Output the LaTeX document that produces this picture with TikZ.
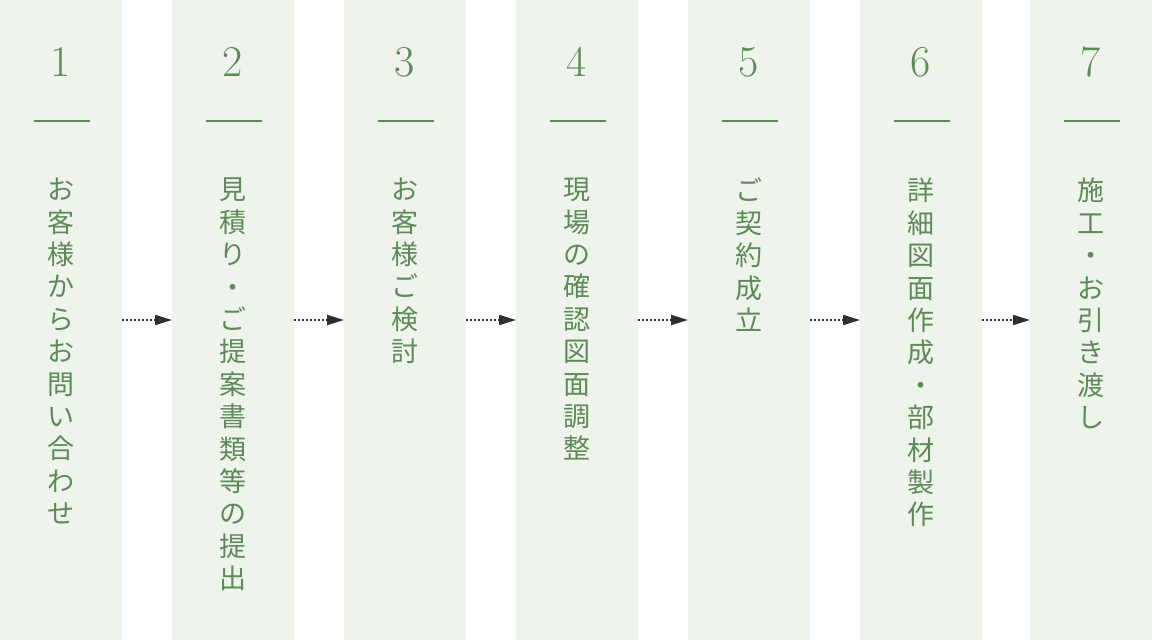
\documentclass[tikz,border=0pt]{standalone}
\usepackage{fontspec}
\newfontfamily\jp{Noto Sans CJK JP}
\usetikzlibrary{arrows.meta}
\definecolor{leaf}{HTML}{5E8A58}
\definecolor{pale}{HTML}{EEF3EC}
\definecolor{ink}{HTML}{2E2E2E}
\tikzset{col/.style = {fill=pale, minimum width=122pt, minimum height=640pt, inner sep=0pt, outer sep=0pt},
         num/.style = {text=leaf, font=\fontsize{44}{44}\selectfont, inner sep=0pt},
         bar/.style = {fill=leaf, minimum width=56pt, minimum height=2pt, inner sep=0pt},
         txt/.style = {text=leaf, font=\jp\fontsize{27}{32.4}\selectfont, align=center, anchor=north, inner sep=0pt},
         fl/.style  = {draw=ink, line width=2pt, dash pattern=on 2pt off 2pt, -{Triangle[length=17pt,width=10pt]}}}

\begin{document}
\begin{tikzpicture}[x=1pt, y=-1pt]
    \useasboundingbox (0,0) rectangle (1152,640);
    \node[col] (c1) at (61,320) {};   \node[col] (c2) at (233,320) {};  \node[col] (c3) at (405,320) {};
    \node[col] (c4) at (577,320) {};  \node[col] (c5) at (749,320) {};  \node[col] (c6) at (921,320) {};
    \node[col] (c7) at (1091,320) {};
    \node[num] (n1) at (61,62) {1};   \node[num] (n2) at (233,62) {2};  \node[num] (n3) at (405,62) {3};
    \node[num] (n4) at (577,62) {4};  \node[num] (n5) at (749,62) {5};  \node[num] (n6) at (921,62) {6};
    \node[num] (n7) at (1091,62) {7};
    \node[bar] (b1) at (62,120.5) {};  \node[bar] (b2) at (234,120.5) {};  \node[bar] (b3) at (406,120.5) {};
    \node[bar] (b4) at (578,120.5) {}; \node[bar] (b5) at (750,120.5) {};  \node[bar] (b6) at (922,120.5) {};
    \node[bar] (b7) at (1092,120.5) {};
    \node[txt] (t1) at (61,178) {お\\客\\様\\か\\ら\\お\\問\\い\\合\\わ\\せ};
    \node[txt] (t2) at (233,178) {見\\積\\り\\・\\ご\\提\\案\\書\\類\\等\\の\\提\\出};
    \node[txt] (t3) at (405,178) {お\\客\\様\\ご\\検\\討};
    \node[txt] (t4) at (577,178) {現\\場\\の\\確\\認\\図\\面\\調\\整};
    \node[txt] (t5) at (749,178) {ご\\契\\約\\成\\立};
    \node[txt] (t6) at (921,178) {詳\\細\\図\\面\\作\\成\\・\\部\\材\\製\\作};
    \node[txt] (t7) at (1091,178) {施\\工\\・\\お\\引\\き\\渡\\し};
    \draw[fl] (c1.east) -- (c2.west);
    \draw[fl] (c2.east) -- (c3.west);
    \draw[fl] (c3.east) -- (c4.west);
    \draw[fl] (c4.east) -- (c5.west);
    \draw[fl] (c5.east) -- (c6.west);
    \draw[fl] (c6.east) -- (c7.west);
\end{tikzpicture}
\end{document}
